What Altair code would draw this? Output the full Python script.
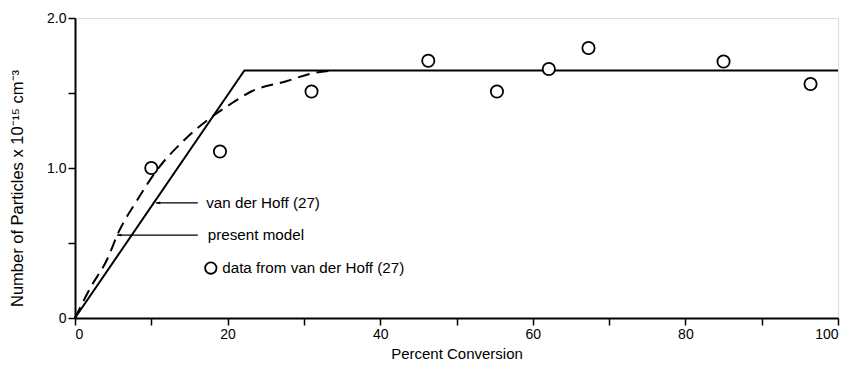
import altair as alt
import pandas as pd

# ---- data ----
# van der Hoff (27) model: solid line
vdh_x = [0, 22.2, 100]
vdh_y = [0, 1.65, 1.65]

# present model: dashed curve
model_x = [0, 2, 4.3, 5.6, 8.2, 10.8, 14.4, 17.9, 20.5, 23.1, 27.8, 31, 34]
model_y = [0, 0.2, 0.4, 0.56, 0.79, 0.99, 1.19, 1.34, 1.43, 1.51, 1.58, 1.63, 1.65]

# data from van der Hoff (27): open circles
data_x = [10, 19, 31, 46.3, 55.3, 62.1, 67.3, 85, 96.4]
data_y = [1.0, 1.11, 1.51, 1.715, 1.51, 1.66, 1.80, 1.71, 1.56]

# annotations
ann_text = ["van der Hoff (27)", "present model", "data from van der Hoff (27)"]
ann_x = [17.2, 17.4, 19.3]
ann_y = [0.767, 0.553, 0.333]
arrow_from_x = [16.1, 16.1]
arrow_to_x = [10.6, 5.5]
arrow_y = [0.767, 0.553]
key_x = [17.8]
key_y = [0.333]

x_ticks = list(range(0, 101, 10))
y_ticks = [0, 0.5, 1.0, 1.5, 2.0]

FONT = "Liberation Sans"

xs = alt.Scale(domain=[0, 100], nice=False, zero=False)
ys = alt.Scale(domain=[0, 2], nice=False, zero=False)

x_axis = alt.Axis(
    values=x_ticks,
    labelExpr="datum.value % 20 == 0 ? datum.value : ''",
    title="Percent Conversion",
    tickSize=7, tickWidth=1.5, tickColor="black",
    domainColor="black", domainWidth=2,
    labelFontSize=14, labelColor="black", labelPadding=2,
    titleFontSize=15, titleFontWeight="normal", titleColor="black", titlePadding=5,
    grid=False,
)
y_axis = alt.Axis(
    values=y_ticks,
    labelExpr="datum.value == 0 ? '0' : (datum.value % 1 == 0 ? format(datum.value, '.1f') : '')",
    title="Number of Particles x 10⁻¹⁵ cm⁻³",
    tickSize=7, tickWidth=1.5, tickColor="black",
    domainColor="black", domainWidth=2,
    labelFontSize=14, labelColor="black", labelPadding=2,
    titleFontSize=16.5, titleFontWeight="normal", titleColor="black",
    titleX=-58, titleY=170, titleAngle=-90, titleAlign="center", titleBaseline="middle",
    grid=False,
)

vdh_df = pd.DataFrame({"x": vdh_x, "y": vdh_y})
model_df = pd.DataFrame({"x": model_x, "y": model_y})
data_df = pd.DataFrame({"x": data_x, "y": data_y})
ann_df = pd.DataFrame({"x": ann_x, "y": ann_y, "t": ann_text})
arr_df = pd.DataFrame({"x": arrow_from_x, "x2": arrow_to_x, "y": arrow_y})
key_df = pd.DataFrame({"x": key_x, "y": key_y})

solid = alt.Chart(vdh_df).mark_line(color="black", strokeWidth=2).encode(
    x=alt.X("x:Q", scale=xs, axis=x_axis),
    y=alt.Y("y:Q", scale=ys, axis=y_axis),
)
dashed = alt.Chart(model_df).mark_line(
    color="black", strokeWidth=2, strokeDash=[12, 7], interpolate="monotone"
).encode(x=alt.X("x:Q", scale=xs), y=alt.Y("y:Q", scale=ys))
points = alt.Chart(data_df).mark_point(
    shape="circle", size=150, filled=False, color="black", fill="white", fillOpacity=1, strokeWidth=1.8, opacity=1
).encode(x=alt.X("x:Q", scale=xs), y=alt.Y("y:Q", scale=ys))

arrow_lines = alt.Chart(arr_df).mark_rule(color="black", strokeWidth=1.3).encode(
    x=alt.X("x:Q", scale=xs), x2="x2:Q", y=alt.Y("y:Q", scale=ys)
)
arrow_heads = alt.Chart(arr_df).mark_point(
    shape="M0,0L2.2,-0.7L2.2,0.7Z", size=16, filled=True, color="black", opacity=1
).encode(x=alt.X("x2:Q", scale=xs), y=alt.Y("y:Q", scale=ys))

labels = alt.Chart(ann_df).mark_text(
    align="left", baseline="middle", font=FONT, fontSize=15.2, color="black"
).encode(x=alt.X("x:Q", scale=xs), y=alt.Y("y:Q", scale=ys), text="t:N")

key = alt.Chart(key_df).mark_point(
    shape="circle", size=130, filled=False, color="black", fill="white", fillOpacity=1, strokeWidth=1.8, opacity=1
).encode(x=alt.X("x:Q", scale=xs), y=alt.Y("y:Q", scale=ys))

chart = alt.layer(solid, dashed, arrow_lines, arrow_heads, points, labels, key).properties(
    width=763, height=300,
    autosize=alt.AutoSizeParams(type="none"),
    padding={"left": 67, "top": 10, "right": 5, "bottom": 52},
    background="white",
).configure_view(stroke="black", strokeWidth=1.5).configure(font=FONT)

chart.save("out.html", embed_options={"renderer": "svg", "actions": False})
